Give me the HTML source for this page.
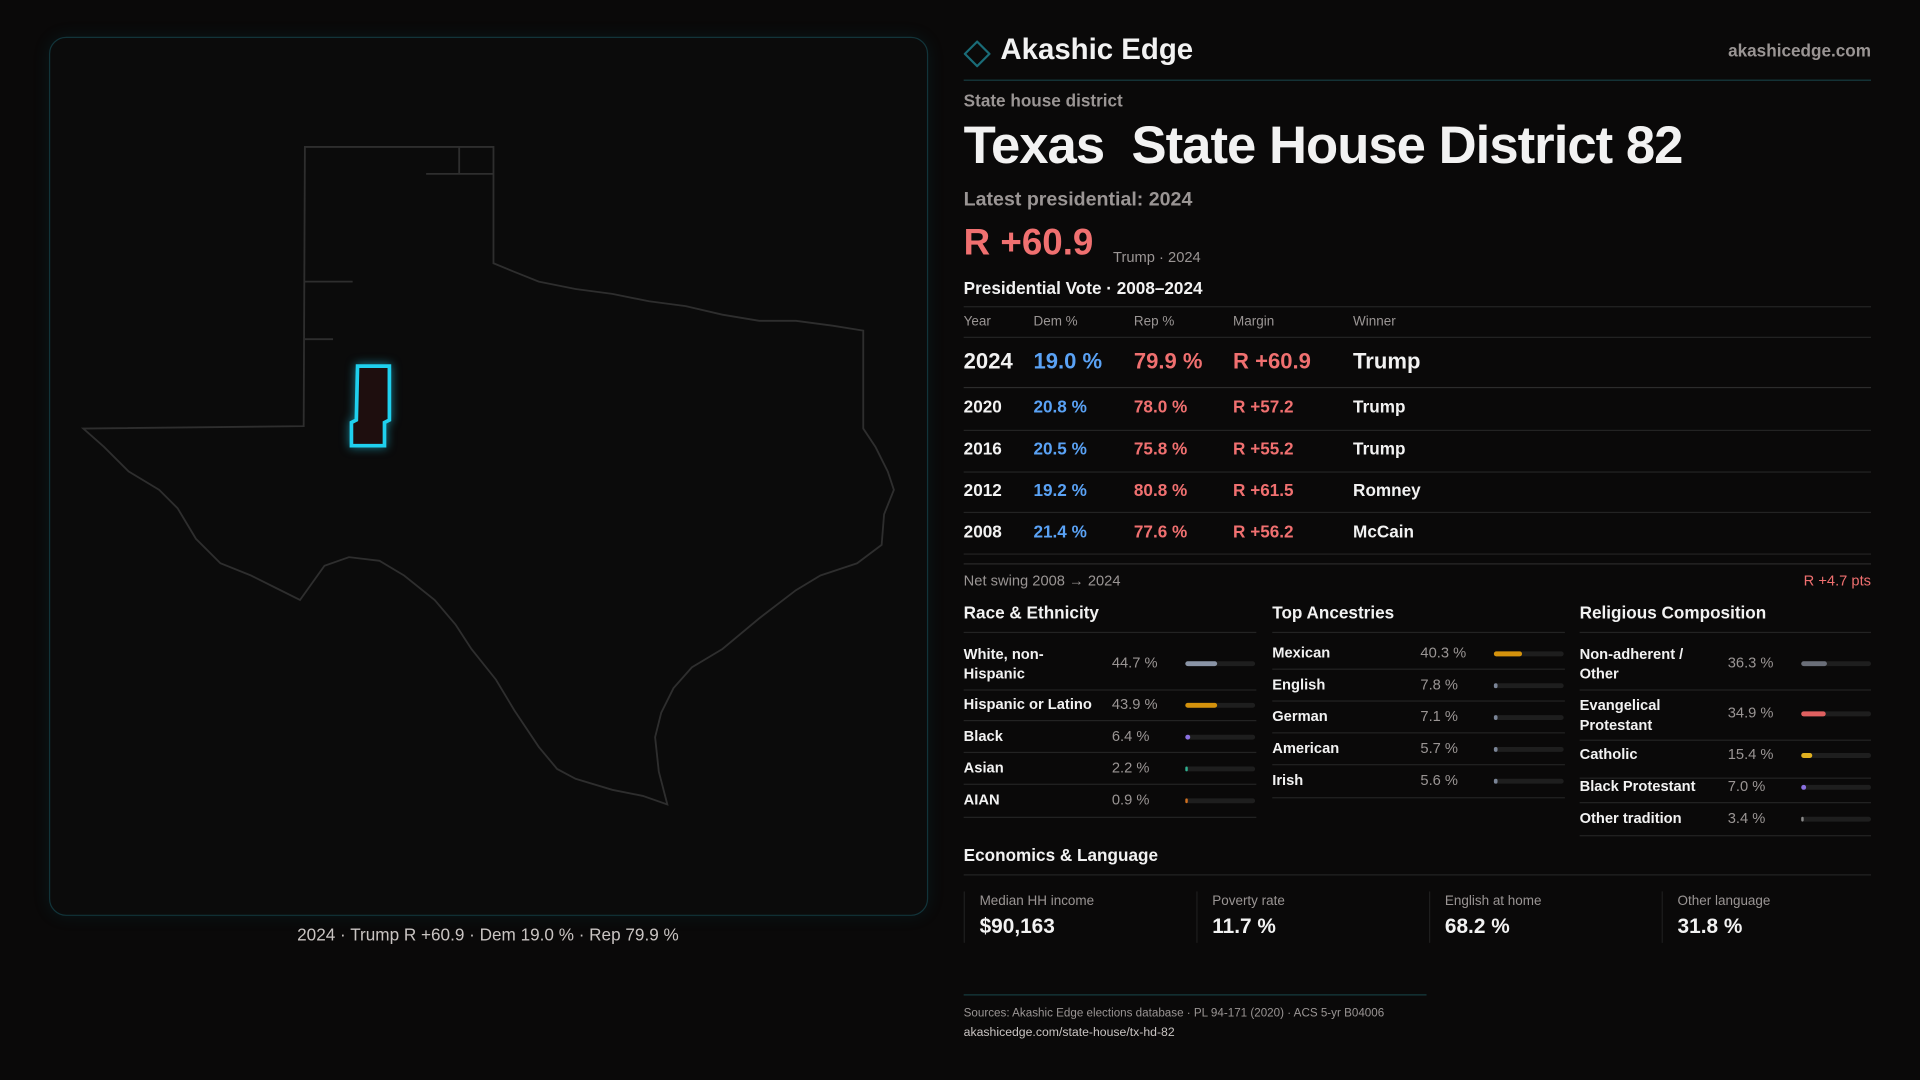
<!DOCTYPE html>
<html><head><meta charset="utf-8"><style>
html,body{margin:0;padding:0;background:#0a0909;width:1920px;height:1080px;overflow:hidden}
#w{position:absolute;left:0;top:0;width:1568px;height:882px;transform:scale(1.22449);transform-origin:0 0;font-family:"Liberation Sans",sans-serif;color:#f2f2f2}
.a{position:absolute;white-space:nowrap}
.mute{color:#9a9594}
.blue{color:#5aa2f5}.red{color:#f07070}
.hr{position:absolute;height:1px;background:#232323}
.row{position:absolute;left:787px;width:741px}
.bar{position:absolute;height:4px;border-radius:2px;background:#1e1e1e;width:57px}
.bar i{position:absolute;left:0;top:0;height:4px;border-radius:2px}
</style></head><body><div id="w">
<div class="a" style="left:40px;top:30px;width:716px;height:716px;border:1px solid #12343a;border-radius:14px;background:#0b0b0b;box-shadow:0 0 14px rgba(0,120,140,0.12)"></div>
<svg class="a" style="left:0;top:0" width="800" height="760" viewBox="0 0 800 760">
<path d="M249,120 L403,120 L403,215 L420,222 L440,230 L470,236 L500,240 L530,246 L560,250 L590,257 L620,262 L650,262 L680,266 L705,270 L705,350 L715,365 L725,385 L730,400 L722,420 L720,445 L700,460 L670,470 L650,482 L620,505 L590,530 L565,545 L550,562 L540,582 L535,602 L538,630 L545,657 L525,650 L500,645 L470,636 L455,628 L440,610 L420,580 L405,555 L385,530 L372,510 L355,490 L330,470 L310,458 L285,455 L265,462 L245,490 L225,480 L205,470 L180,460 L160,440 L145,415 L130,400 L105,385 L85,365 L68,350 L248,348 Z" fill="none" stroke="#2e2e2e" stroke-width="1.5"/>
<path d="M249,230 L288,230 M249,277 L272,277 M348,142 L403,142 M375,120 L375,142" stroke="#2e2e2e" stroke-width="1.5" fill="none"/>
<path d="M292,299 L318,299 L318,343 L314,345 L314,364 L287,364 L287,345 L291,343 Z" fill="#1e0e0e" stroke="#1fd0ee" stroke-width="3" style="filter:drop-shadow(0 0 4px rgba(30,200,230,0.6))"/>
</svg>
<div class="a" style="left:0;width:797px;text-align:center;top:755px;font-size:14px;color:#c9c4c2">2024 · Trump R +60.9 · Dem 19.0 % · Rep 79.9 %</div>

<svg class="a" style="left:787px;top:33px" width="22" height="22"><path d="M11,1 L21,11 L11,21 L1,11 Z" fill="none" stroke="#1a6c78" stroke-width="1.8"/></svg>
<div class="a" style="left:817px;top:27px;font-size:24px;font-weight:bold">Akashic Edge</div>
<div class="a mute" style="right:40px;top:33px;font-size:14px;font-weight:bold">akashicedge.com</div>
<div class="hr" style="left:787px;width:741px;top:65px;background:#173c40"></div>
<div class="a mute" style="left:787px;top:74px;font-size:14px;font-weight:bold">State house district</div>
<div class="a" style="left:787px;top:95px;font-size:43px;font-weight:bold;letter-spacing:-0.8px">Texas&nbsp; State House District 82</div>
<div class="a mute" style="left:787px;top:155px;font-size:16px;font-weight:bold">Latest presidential: 2024</div>
<div class="a red" style="left:787px;top:182px;font-size:30px;font-weight:bold">R +60.9</div>
<div class="a mute" style="left:909px;top:203px;font-size:12px">Trump · 2024</div>
<div class="a" style="left:787px;top:227px;font-size:14px;font-weight:bold">Presidential Vote · 2008–2024</div>
<div class="hr" style="left:787px;width:741px;top:250px"></div>
<div class="a mute" style="top:257px;left:787px;font-size:11px">Year</div>
<div class="a mute" style="top:257px;left:844px;font-size:11px">Dem %</div>
<div class="a mute" style="top:257px;left:926px;font-size:11px">Rep %</div>
<div class="a mute" style="top:257px;left:1007px;font-size:11px">Margin</div>
<div class="a mute" style="top:257px;left:1105px;font-size:11px">Winner</div>
<div class="hr" style="left:787px;width:741px;top:275px"></div>
<div class="a" style="top:285px;left:787px;font-size:18px;font-weight:bold">2024</div>
<div class="a blue" style="top:285px;left:844px;font-size:18px;font-weight:bold">19.0 %</div>
<div class="a red" style="top:285px;left:926px;font-size:18px;font-weight:bold">79.9 %</div>
<div class="a red" style="top:285px;left:1007px;font-size:18px;font-weight:bold">R +60.9</div>
<div class="a" style="top:285px;left:1105px;font-size:18px;font-weight:bold">Trump</div>
<div class="hr" style="left:787px;width:741px;top:316px;background:#2c2c2c"></div>
<div class="a" style="top:324px;left:787px;font-size:14px;font-weight:bold">2020</div><div class="a blue" style="top:324px;left:844px;font-size:14px;font-weight:bold">20.8 %</div><div class="a red" style="top:324px;left:926px;font-size:14px;font-weight:bold">78.0 %</div><div class="a red" style="top:324px;left:1007px;font-size:14px;font-weight:bold">R +57.2</div><div class="a" style="top:324px;left:1105px;font-size:14px;font-weight:bold">Trump</div>
<div class="hr" style="left:787px;width:741px;top:351px"></div>
<div class="a" style="top:358px;left:787px;font-size:14px;font-weight:bold">2016</div><div class="a blue" style="top:358px;left:844px;font-size:14px;font-weight:bold">20.5 %</div><div class="a red" style="top:358px;left:926px;font-size:14px;font-weight:bold">75.8 %</div><div class="a red" style="top:358px;left:1007px;font-size:14px;font-weight:bold">R +55.2</div><div class="a" style="top:358px;left:1105px;font-size:14px;font-weight:bold">Trump</div>
<div class="hr" style="left:787px;width:741px;top:385px"></div>
<div class="a" style="top:392px;left:787px;font-size:14px;font-weight:bold">2012</div><div class="a blue" style="top:392px;left:844px;font-size:14px;font-weight:bold">19.2 %</div><div class="a red" style="top:392px;left:926px;font-size:14px;font-weight:bold">80.8 %</div><div class="a red" style="top:392px;left:1007px;font-size:14px;font-weight:bold">R +61.5</div><div class="a" style="top:392px;left:1105px;font-size:14px;font-weight:bold">Romney</div>
<div class="hr" style="left:787px;width:741px;top:418px"></div>
<div class="a" style="top:426px;left:787px;font-size:14px;font-weight:bold">2008</div><div class="a blue" style="top:426px;left:844px;font-size:14px;font-weight:bold">21.4 %</div><div class="a red" style="top:426px;left:926px;font-size:14px;font-weight:bold">77.6 %</div><div class="a red" style="top:426px;left:1007px;font-size:14px;font-weight:bold">R +56.2</div><div class="a" style="top:426px;left:1105px;font-size:14px;font-weight:bold">McCain</div>
<div class="hr" style="left:787px;width:741px;top:452px"></div>
<div class="hr" style="left:787px;width:741px;top:460px;background:#2a2a2a"></div>
<div class="a mute" style="top:467px;left:787px;font-size:12px">Net swing 2008 → 2024</div>
<div class="a red" style="top:467px;right:40px;font-size:12px">R +4.7 pts</div>

<!-- Race -->
<div class="a" style="top:492px;left:787px;font-size:14px;font-weight:bold">Race &amp; Ethnicity</div>
<div class="hr" style="left:787px;width:239px;top:516px"></div>
<div class="a" style="top:526px;left:787px;font-size:12px;font-weight:bold;line-height:16px">White, non-<br>Hispanic</div><div class="a mute" style="top:534px;left:908px;font-size:12px">44.7 %</div><div class="bar" style="left:968px;top:540px"><i style="width:26px;background:#8a94a6"></i></div>
<div class="hr" style="left:787px;width:239px;top:563px"></div>
<div class="a" style="top:568px;left:787px;font-size:12px;font-weight:bold">Hispanic or Latino</div><div class="a mute" style="top:568px;left:908px;font-size:12px">43.9 %</div><div class="bar" style="left:968px;top:574px"><i style="width:26px;background:#d4920c"></i></div>
<div class="hr" style="left:787px;width:239px;top:588px"></div>
<div class="a" style="top:594px;left:787px;font-size:12px;font-weight:bold">Black</div><div class="a mute" style="top:594px;left:908px;font-size:12px">6.4 %</div><div class="bar" style="left:968px;top:600px"><i style="width:4px;background:#8a70e0"></i></div>
<div class="hr" style="left:787px;width:239px;top:614px"></div>
<div class="a" style="top:620px;left:787px;font-size:12px;font-weight:bold">Asian</div><div class="a mute" style="top:620px;left:908px;font-size:12px">2.2 %</div><div class="bar" style="left:968px;top:626px"><i style="width:2px;background:#30b090"></i></div>
<div class="hr" style="left:787px;width:239px;top:640px"></div>
<div class="a" style="top:646px;left:787px;font-size:12px;font-weight:bold">AIAN</div><div class="a mute" style="top:646px;left:908px;font-size:12px">0.9 %</div><div class="bar" style="left:968px;top:652px"><i style="width:1.5px;background:#d07020"></i></div>
<div class="hr" style="left:787px;width:239px;top:667px"></div>

<!-- Ancestries -->
<div class="a" style="top:492px;left:1039px;font-size:14px;font-weight:bold">Top Ancestries</div>
<div class="hr" style="left:1039px;width:239px;top:516px"></div>
<div class="a" style="top:526px;left:1039px;font-size:12px;font-weight:bold">Mexican</div><div class="a mute" style="top:526px;left:1160px;font-size:12px">40.3 %</div><div class="bar" style="left:1220px;top:532px"><i style="width:23px;background:#d4920c"></i></div>
<div class="hr" style="left:1039px;width:239px;top:546px"></div>
<div class="a" style="top:552px;left:1039px;font-size:12px;font-weight:bold">English</div><div class="a mute" style="top:552px;left:1160px;font-size:12px">7.8 %</div><div class="bar" style="left:1220px;top:558px"><i style="width:3px;background:#7a8496"></i></div>
<div class="hr" style="left:1039px;width:239px;top:572px"></div>
<div class="a" style="top:578px;left:1039px;font-size:12px;font-weight:bold">German</div><div class="a mute" style="top:578px;left:1160px;font-size:12px">7.1 %</div><div class="bar" style="left:1220px;top:584px"><i style="width:3px;background:#7a8496"></i></div>
<div class="hr" style="left:1039px;width:239px;top:598px"></div>
<div class="a" style="top:604px;left:1039px;font-size:12px;font-weight:bold">American</div><div class="a mute" style="top:604px;left:1160px;font-size:12px">5.7 %</div><div class="bar" style="left:1220px;top:610px"><i style="width:3px;background:#7a8496"></i></div>
<div class="hr" style="left:1039px;width:239px;top:624px"></div>
<div class="a" style="top:630px;left:1039px;font-size:12px;font-weight:bold">Irish</div><div class="a mute" style="top:630px;left:1160px;font-size:12px">5.6 %</div><div class="bar" style="left:1220px;top:636px"><i style="width:3px;background:#7a8496"></i></div>
<div class="hr" style="left:1039px;width:239px;top:651px"></div>

<!-- Religion -->
<div class="a" style="top:492px;left:1290px;font-size:14px;font-weight:bold">Religious Composition</div>
<div class="hr" style="left:1290px;width:238px;top:516px"></div>
<div class="a" style="top:526px;left:1290px;font-size:12px;font-weight:bold;line-height:16px">Non-adherent /<br>Other</div><div class="a mute" style="top:534px;left:1411px;font-size:12px">36.3 %</div><div class="bar" style="left:1471px;top:540px"><i style="width:21px;background:#6a6e78"></i></div>
<div class="hr" style="left:1290px;width:238px;top:563px"></div>
<div class="a" style="top:568px;left:1290px;font-size:12px;font-weight:bold;line-height:16px">Evangelical<br>Protestant</div><div class="a mute" style="top:575px;left:1411px;font-size:12px">34.9 %</div><div class="bar" style="left:1471px;top:581px"><i style="width:20px;background:#e06060"></i></div>
<div class="hr" style="left:1290px;width:238px;top:604px"></div>
<div class="a" style="top:609px;left:1290px;font-size:12px;font-weight:bold">Catholic</div><div class="a mute" style="top:609px;left:1411px;font-size:12px">15.4 %</div><div class="bar" style="left:1471px;top:615px"><i style="width:9px;background:#e0b020"></i></div>
<div class="hr" style="left:1290px;width:238px;top:635px"></div>
<div class="a" style="top:635px;left:1290px;font-size:12px;font-weight:bold">Black Protestant</div><div class="a mute" style="top:635px;left:1411px;font-size:12px">7.0 %</div><div class="bar" style="left:1471px;top:641px"><i style="width:4px;background:#8a70e0"></i></div>
<div class="hr" style="left:1290px;width:238px;top:655px"></div>
<div class="a" style="top:661px;left:1290px;font-size:12px;font-weight:bold">Other tradition</div><div class="a mute" style="top:661px;left:1411px;font-size:12px">3.4 %</div><div class="bar" style="left:1471px;top:667px"><i style="width:2px;background:#8a8a8a"></i></div>
<div class="hr" style="left:1290px;width:238px;top:682px"></div>

<div class="a" style="top:690px;left:787px;font-size:14px;font-weight:bold">Economics &amp; Language</div>
<div class="hr" style="left:787px;width:741px;top:714px"></div>
<div class="a" style="left:787px;top:728px;width:1px;height:42px;background:#1e1e1e"></div>
<div class="a" style="left:977px;top:728px;width:1px;height:42px;background:#1e1e1e"></div>
<div class="a" style="left:1167px;top:728px;width:1px;height:42px;background:#1e1e1e"></div>
<div class="a" style="left:1357px;top:728px;width:1px;height:42px;background:#1e1e1e"></div>
<div class="a mute" style="left:800px;top:730px;font-size:11px">Median HH income</div><div class="a" style="left:800px;top:747px;font-size:17px;font-weight:bold">$90,163</div>
<div class="a mute" style="left:990px;top:730px;font-size:11px">Poverty rate</div><div class="a" style="left:990px;top:747px;font-size:17px;font-weight:bold">11.7 %</div>
<div class="a mute" style="left:1180px;top:730px;font-size:11px">English at home</div><div class="a" style="left:1180px;top:747px;font-size:17px;font-weight:bold">68.2 %</div>
<div class="a mute" style="left:1370px;top:730px;font-size:11px">Other language</div><div class="a" style="left:1370px;top:747px;font-size:17px;font-weight:bold">31.8 %</div>

<div class="hr" style="left:787px;width:378px;top:812px;background:#173c40"></div>
<div class="a mute" style="left:787px;top:822px;font-size:9.5px">Sources: Akashic Edge elections database · PL 94-171 (2020) · ACS 5-yr B04006</div>
<div class="a" style="left:787px;top:838px;font-size:10px;color:#c9c4c2">akashicedge.com/state-house/tx-hd-82</div>
</div></body></html>
